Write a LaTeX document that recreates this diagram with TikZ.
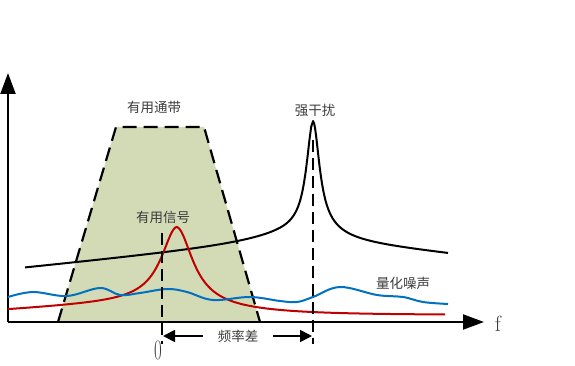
\documentclass[tikz,border=0pt]{standalone}
\usepackage{fontspec}
\newfontfamily\cjk{Noto Sans CJK SC}
\usetikzlibrary{arrows.meta, positioning}

\definecolor{bandgreen}{RGB}{211,218,182}
\definecolor{sigred}{RGB}{192,0,0}
\definecolor{noiseblue}{RGB}{0,112,192}
\definecolor{labelgray}{RGB}{60,60,60}

\tikzset{
    axis/.style={line width=2pt, -{Triangle[length=21pt,width=15pt]}},
    bandedge/.style={line width=2.2pt, dash pattern=on 14pt off 7pt},
    marker/.style={line width=2pt, dash pattern=on 12pt off 6pt},
    lbl/.style={font=\cjk\fontsize{13.5pt}{14pt}\selectfont, text=labelgray, inner sep=1pt},
    gap/.style={line width=1.8pt, -{Triangle[length=12pt,width=12pt]}},
    curve/.style={line width=2pt},
    wavy/.style={line width=2pt, smooth, tension=0.6}
}

\begin{document}
\begin{tikzpicture}[x=1pt, y=-1pt]
    \useasboundingbox (0,0) rectangle (575,366);

    % pass band
    \coordinate (bl) at (58,322);
    \coordinate (tl) at (116,127);
    \coordinate (tr) at (204,127);
    \coordinate (br) at (260,322);
    \fill[bandgreen] (bl) -- (tl) -- (tr) -- (br) -- cycle;
    \draw[bandedge] (bl) -- (tl) -- (tr) -- (br);

    % axes
    \coordinate (origin) at (8,322);
    \coordinate (ytop) at (8,73);
    \coordinate (xend) at (484,322);
    \draw[axis] (origin) -- (ytop);
    \draw[axis] (origin) -- (xend);

    % strong interference
    \draw[curve, black, line join=round] plot[domain=25:313, samples=160]
        (\x, {268-(\x-25)*0.1-12/(1+((\x-313)/60)^2)-106/(1+((\x-313)/7.8)^2)})
        -- plot[domain=313:448, samples=120]
        (\x, {239+(\x-313)*0.11-12/(1+((\x-313)/30)^2)-106/(1+((\x-313)/7.8)^2)});

    % wanted signal
    \draw[curve, sigred, line join=round] plot[domain=8:177, samples=100]
        (\x, {310-(\x-8)*0.06-73/(1+((\x-177)/19)^2)})
        -- plot[domain=177:445, samples=120]
        (\x, {315-15*exp(-(\x-177)/60)-73/(1+((\x-177)/19)^2)});

    % quantisation noise
    \draw[wavy, noiseblue] plot coordinates {(8,297) (33,292) (67,296) (100,288) (120,295) (140,293) (167,289) (187,292) (213,300) (250,297) (280,301) (297,302) (313,297) (340,287) (377,295) (403,297) (423,302) (448,304)};

    % markers at the two peaks
    \coordinate (s0) at (162,233);
    \coordinate (s1) at (162,344);
    \coordinate (j0) at (313,140);
    \coordinate (j1) at (313,344);
    \draw[marker] (s0) -- (s1);
    \draw[marker] (j0) -- (j1);

    % labels
    \node[lbl] (band) at (154,107) {有用通带};
    \node[lbl] (jam) at (315,110) {强干扰};
    \node[lbl] (sig) at (163,217) {有用信号};
    \node[lbl] (noise) at (403,283) {量化噪声};
    \node[lbl] (diff) at (238,336) {频率差};
    \node[font=\fontsize{28pt}{28pt}\selectfont, text=labelgray, inner sep=0pt, xscale=0.6] (zero) at (158,350) {0};
    \node[font=\fontsize{22pt}{22pt}\selectfont, text=labelgray, inner sep=0pt] (fl) at (498,324) {f};

    % frequency difference
    \coordinate (dl) at (163,336);
    \coordinate (dr) at (312,336);
    \draw[gap] (diff.west) ++(-14pt,0) -- (dl);
    \draw[gap] (diff.east) ++(14pt,0) -- (dr);
\end{tikzpicture}
\end{document}
